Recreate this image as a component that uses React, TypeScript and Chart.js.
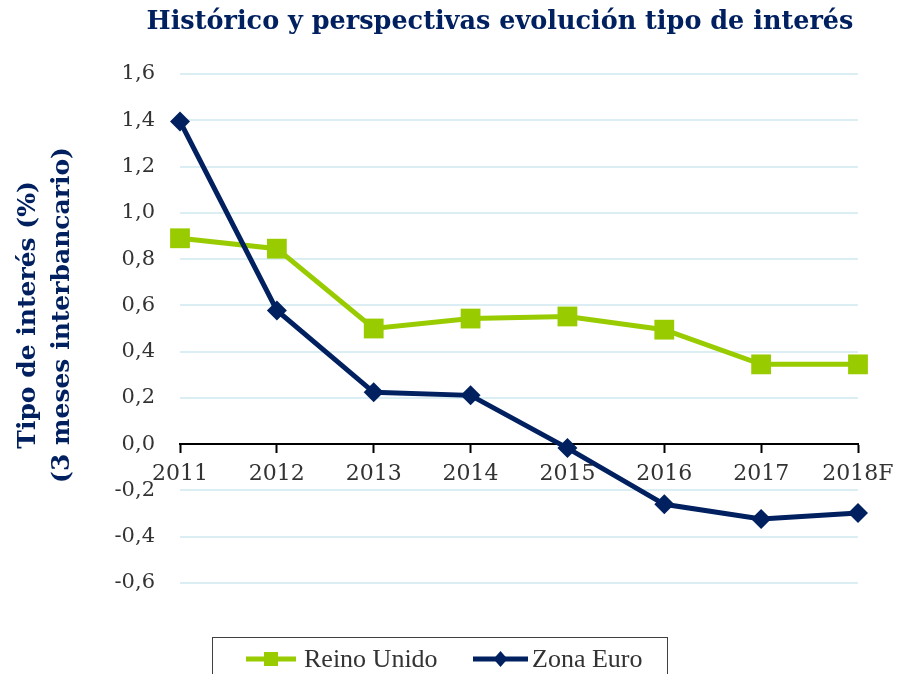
import React, { useEffect, useRef } from "react";
import { Chart, registerables } from "chart.js";

Chart.register(...registerables);

const categories = ["2011", "2012", "2013", "2014", "2015", "2016", "2017", "2018F"];
const reinoUnido = [0.89, 0.845, 0.5, 0.543, 0.552, 0.495, 0.345, 0.345];
const zonaEuro = [1.395, 0.578, 0.224, 0.211, -0.017, -0.26, -0.323, -0.297];

const TITLE = "Histórico y perspectivas evolución tipo de interés";
const Y_TITLE = ["Tipo de interés (%)", "(3 meses interbancario)"];
const NAVY = "#002060";
const GREEN = "#99CC00";
const SERIF = "'DejaVu Serif', 'Liberation Serif', serif";

const decorPlugin = {
  id: "decor",
  afterDraw(chart: any) {
    const ctx = chart.ctx;
    ctx.save();
    // Title
    ctx.fillStyle = NAVY;
    ctx.font = `bold 25.5px ${SERIF}`;
    ctx.textAlign = "center";
    ctx.textBaseline = "middle";
    ctx.fillText(TITLE, 500, 22);
    // Y axis title
    ctx.save();
    ctx.translate(0, 315);
    ctx.rotate(-Math.PI / 2);
    ctx.font = `bold 25px ${SERIF}`;
    ctx.fillText(Y_TITLE[0], 0, 28);
    ctx.fillText(Y_TITLE[1], 0, 62);
    ctx.restore();
    // Legend box
    ctx.strokeStyle = "#404040";
    ctx.lineWidth = 1;
    ctx.strokeRect(212.5, 637.5, 455, 60);
    const items = [
      { ds: chart.data.datasets[1], x0: 246, x1: 296, tx: 304 },
      { ds: chart.data.datasets[0], x0: 473, x1: 528, tx: 532 },
    ];
    const ly = 659;
    items.forEach((it) => {
      ctx.strokeStyle = it.ds.borderColor;
      ctx.lineWidth = 5;
      ctx.beginPath();
      ctx.moveTo(it.x0, ly);
      ctx.lineTo(it.x1, ly);
      ctx.stroke();
      ctx.fillStyle = it.ds.borderColor;
      const cx = (it.x0 + it.x1) / 2;
      ctx.beginPath();
      if (it.ds.pointStyle === "rect") {
        ctx.rect(cx - 7, ly - 7, 14, 14);
      } else {
        ctx.moveTo(cx, ly - 8);
        ctx.lineTo(cx + 7, ly);
        ctx.lineTo(cx, ly + 8);
        ctx.lineTo(cx - 7, ly);
        ctx.closePath();
      }
      ctx.fill();
      ctx.fillStyle = "#333333";
      ctx.font = `26px 'Liberation Serif', serif`;
      ctx.textAlign = "left";
      ctx.fillText(it.ds.label, it.tx, ly + 1);
    });
    ctx.restore();
  },
};

export default function App() {
  const ref = useRef<HTMLCanvasElement>(null);
  useEffect(() => {
    document.body.style.margin = "0";
    const chart = new Chart(ref.current!, {
      type: "line",
      data: {
        labels: categories,
        datasets: [
          {
            label: "Zona Euro",
            data: zonaEuro,
            borderColor: NAVY,
            backgroundColor: NAVY,
            borderWidth: 5,
            pointStyle: "rectRot",
            pointRadius: 10,
            pointBorderWidth: 0,
            pointBackgroundColor: NAVY,
            tension: 0,
            clip: false as any,
            order: 0,
          },
          {
            label: "Reino Unido",
            data: reinoUnido,
            borderColor: GREEN,
            backgroundColor: GREEN,
            borderWidth: 5,
            pointStyle: "rect",
            pointRadius: 14,
            pointBorderWidth: 0,
            pointBackgroundColor: GREEN,
            tension: 0,
            clip: false as any,
            order: 1,
          },
        ],
      },
      options: {
        animation: false,
        responsive: false,
        devicePixelRatio: 1,
        layout: { padding: { left: 0, top: 74, right: 39, bottom: 91 } },
        plugins: {
          legend: { display: false },
          title: { display: false },
          tooltip: { enabled: false },
        },
        scales: {
          x: {
            position: { y: 0 } as any,
            offset: false,
            grid: {
              drawOnChartArea: false,
              drawTicks: true,
              tickLength: 8,
              tickWidth: 2,
              tickColor: "#000000",
            },
            border: { display: true, color: "#000000", width: 2 },
            ticks: {
              color: "#333333",
              font: { family: SERIF, size: 22 },
              padding: 9,
              maxRotation: 0,
              autoSkip: false,
            },
            afterFit(scale: any) {
              scale.height = 0;
              scale.paddingLeft = 0;
              scale.paddingRight = 0;
            },
          },
          y: {
            min: -0.6,
            max: 1.6,
            grid: {
              color: "#DAEEF3",
              lineWidth: 2,
              drawTicks: false,
            },
            border: { display: false },
            ticks: {
              stepSize: 0.2,
              color: "#333333",
              font: { family: SERIF, size: 21 },
              padding: 25,
              callback: (v: any) => (Math.round(Number(v) * 10) / 10).toFixed(1).replace(".", ","),
            },
            afterFit(scale: any) {
              scale.width = 180;
              scale.paddingTop = 0;
              scale.paddingBottom = 0;
            },
          },
        },
      },
      plugins: [decorPlugin],
    });
    return () => chart.destroy();
  }, []);
  return (
    <div style={{ position: "absolute", left: 0, top: 0, width: 897, height: 674 }}>
      <canvas ref={ref} width={897} height={674} />
    </div>
  );
}
